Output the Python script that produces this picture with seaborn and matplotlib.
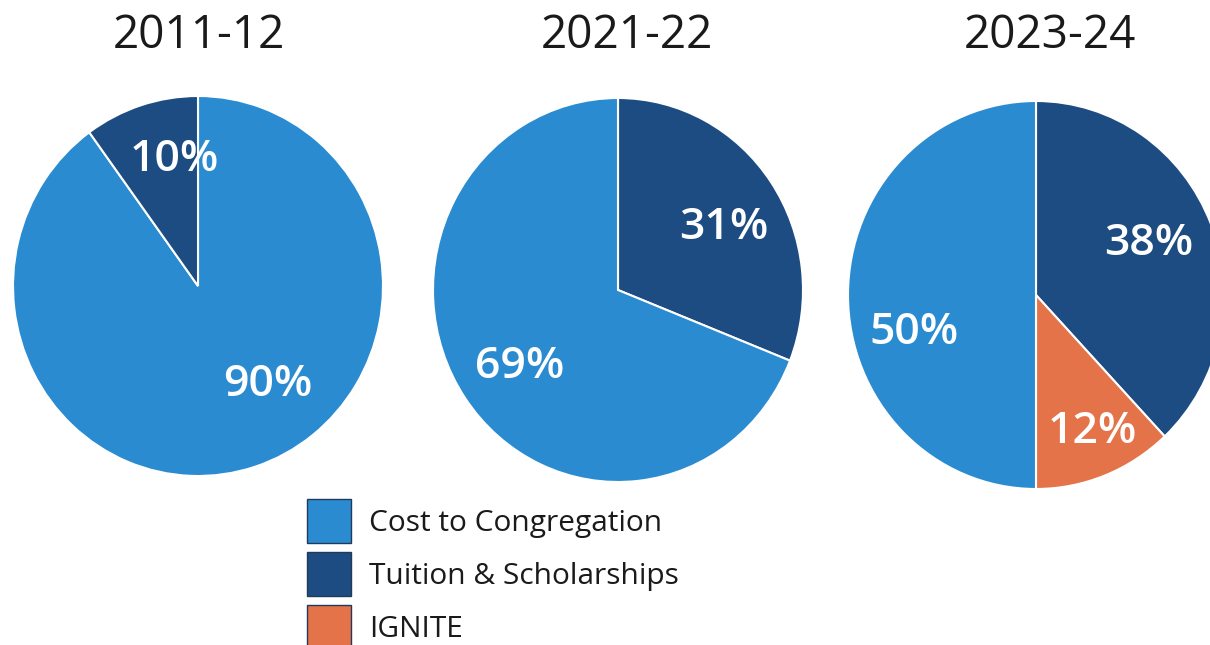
import matplotlib
matplotlib.use("Agg")
import matplotlib.pyplot as plt
from matplotlib.patches import Patch
import seaborn as sns

# ---- data ----
years = ["2011-12", "2021-22", "2023-24"]
categories = ["Cost to Congregation", "Tuition & Scholarships", "IGNITE"]
cost = [90, 69, 50]
tuition = [10, 31, 38]
ignite = [0, 0, 12]

# ---- style ----
sns.set_theme(style="white")
plt.rcParams["font.family"] = ["Open Sans", "DejaVu Sans"]
palette = {"Cost to Congregation": "#2a8bd1",
           "Tuition & Scholarships": "#1d4c82",
           "IGNITE": "#e4734a"}

W, H = 1210, 645
fig = plt.figure(figsize=(W / 100, H / 100), dpi=100)

# layout of each pie (pixel centre and radii), wedge order (clockwise from top)
layout = [
    dict(cx=198, cy=286, rx=185, ry=190, title_x=199,
         order=["Cost to Congregation", "Tuition & Scholarships"],
         lab={"Cost to Congregation": (0.38, -0.49), "Tuition & Scholarships": (-0.13, 0.69)}),
    dict(cx=618, cy=290, rx=185, ry=192, title_x=627,
         order=["Tuition & Scholarships", "Cost to Congregation"],
         lab={"Cost to Congregation": (-0.53, -0.375), "Tuition & Scholarships": (0.57, 0.35)}),
    dict(cx=1036, cy=295, rx=188, ry=194, title_x=1050,
         order=["Tuition & Scholarships", "IGNITE", "Cost to Congregation"],
         lab={"Cost to Congregation": (-0.65, -0.17), "Tuition & Scholarships": (0.60, 0.29),
              "IGNITE": (0.30, -0.68)}),
]

for i, (yr, L) in enumerate(zip(years, layout)):
    vals = {"Cost to Congregation": cost[i],
            "Tuition & Scholarships": tuition[i],
            "IGNITE": ignite[i]}
    cats = [c for c in L["order"] if vals[c] > 0]
    sizes = [vals[c] for c in cats]
    ax = fig.add_axes([(L["cx"] - L["rx"]) / W, 1 - (L["cy"] + L["ry"]) / H,
                       2 * L["rx"] / W, 2 * L["ry"] / H])
    wedges, texts, autotexts = ax.pie(
        sizes, colors=[palette[c] for c in cats], startangle=90, counterclock=False,
        autopct="%d%%", radius=1.0,
        wedgeprops=dict(edgecolor="white", linewidth=1.5),
        textprops=dict(color="white", fontsize=32, fontweight="semibold"))
    for c, t in zip(cats, autotexts):
        t.set_position(L["lab"][c])
        t.set_ha("center")
        t.set_va("center_baseline")
    ax.set_aspect("auto")
    ax.set_xlim(-1, 1)
    ax.set_ylim(-1, 1)
    ax.axis("off")
    fig.text(L["title_x"] / W, 1 - 48 / H, yr, ha="center", va="baseline",
             fontsize=33, color="#1a1a1a")

handles = [Patch(facecolor=palette[c], edgecolor="#203a5c", linewidth=1.0) for c in categories]
fig.legend(handles, categories, loc="upper left", bbox_to_anchor=(307 / W, 1 - 499 / H),
           frameon=False, fontsize=21.5, handlelength=1.48, handleheight=1.9,
           labelspacing=0.3, handletextpad=0.6, borderpad=0, borderaxespad=0,
           labelcolor="#1a1a1a")

fig.savefig("out.png", dpi=100)
